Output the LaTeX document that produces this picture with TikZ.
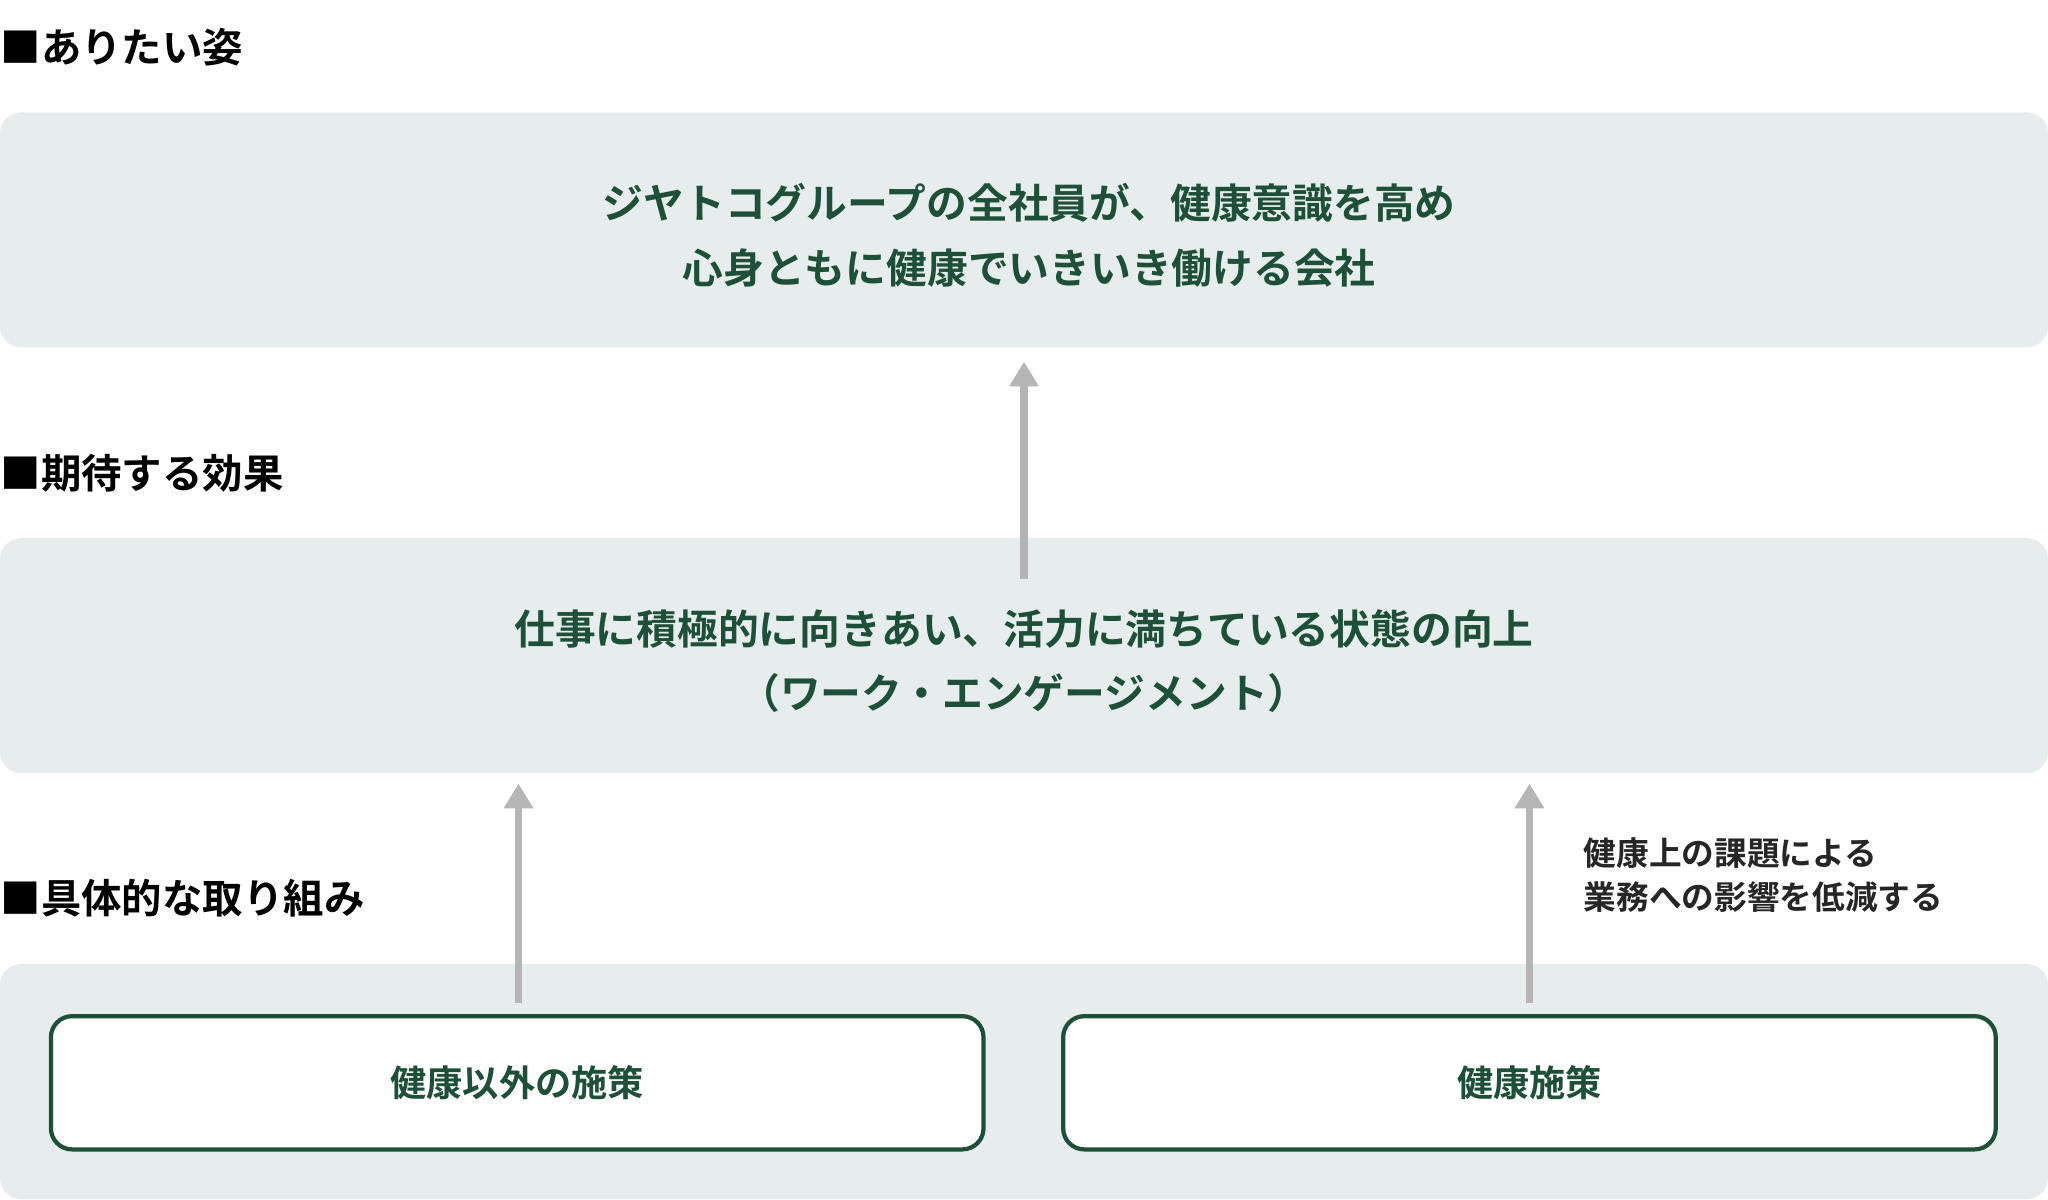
\documentclass[tikz,border=0pt]{standalone}
\usepackage{fontspec}
\setmainfont{Noto Sans CJK JP}[BoldFont={Noto Sans CJK JP Bold}]
\usetikzlibrary{arrows.meta,positioning}
\definecolor{panelgray}{HTML}{E7EDEC}
\definecolor{darkgreen}{HTML}{1E4F38}
\definecolor{arrowgray}{HTML}{B5B5B5}
\tikzset{
  panel/.style={fill=panelgray, rounded corners=6pt, draw=none},
  heading/.style={anchor=west, font=\bfseries\fontsize{11.5}{14}\selectfont, text=black, inner sep=0pt},
  paneltext/.style={align=center, font=\bfseries\fontsize{11.6}{18.3}\selectfont, text=darkgreen},
  measure/.style={fill=white, draw=darkgreen, line width=1.2pt, rounded corners=6pt, font=\bfseries\fontsize{10.3}{12}\selectfont, text=darkgreen},
  uparrow/.style={draw=arrowgray, line width=2.2pt, -{Triangle[width=8pt,length=7pt]}},
  note/.style={anchor=west, align=left, font=\bfseries\fontsize{9.3}{12.6}\selectfont, text=black!85, inner sep=0pt}
}
\begin{document}
\begin{tikzpicture}[x=0.013061cm, y=-0.013061cm]
  \useasboundingbox (0,0) rectangle (1568,918.75);
  % headings
  \node [heading] (hd1) at (0,36) {■ありたい姿};
  \node [heading] (hd2) at (0,362) {■期待する効果};
  \node [heading] (hd3) at (0,688) {■具体的な取り組み};
  % panels
  \draw [panel] (0,86) rectangle (1568,266);
  \draw [panel] (0,412) rectangle (1568,592);
  \draw [panel] (0,738) rectangle (1568,918);
  \node [paneltext] (goal) at (788,180) {ジヤトコグループの全社員が、健康意識を高め\\心身ともに健康でいきいき働ける会社};
  \node [paneltext] (effect) at (784,506) {仕事に積極的に向きあい、活力に満ちている状態の向上\\（ワーク・エンゲージメント）};
  \node [measure, minimum width=714*0.013061cm, minimum height=102*0.013061cm] (other) at (396,829) {健康以外の施策};
  \node [measure, minimum width=714*0.013061cm, minimum height=102*0.013061cm] (health) at (1171,829) {健康施策};
  % arrows
  \coordinate (a1s) at (784,443);
  \coordinate (a1e) at (784,277);
  \coordinate (a2s) at (397,768);
  \coordinate (a2e) at (397,600);
  \coordinate (a3s) at (1171,768);
  \coordinate (a3e) at (1171,600);
  \draw [uparrow] (a1s) -- (a1e);
  \draw [uparrow] (a2s) -- (a2e);
  \draw [uparrow] (a3s) -- (a3e);
  \node [note] (impact) at (1212,670) {健康上の課題による\\業務への影響を低減する};
\end{tikzpicture}
\end{document}
